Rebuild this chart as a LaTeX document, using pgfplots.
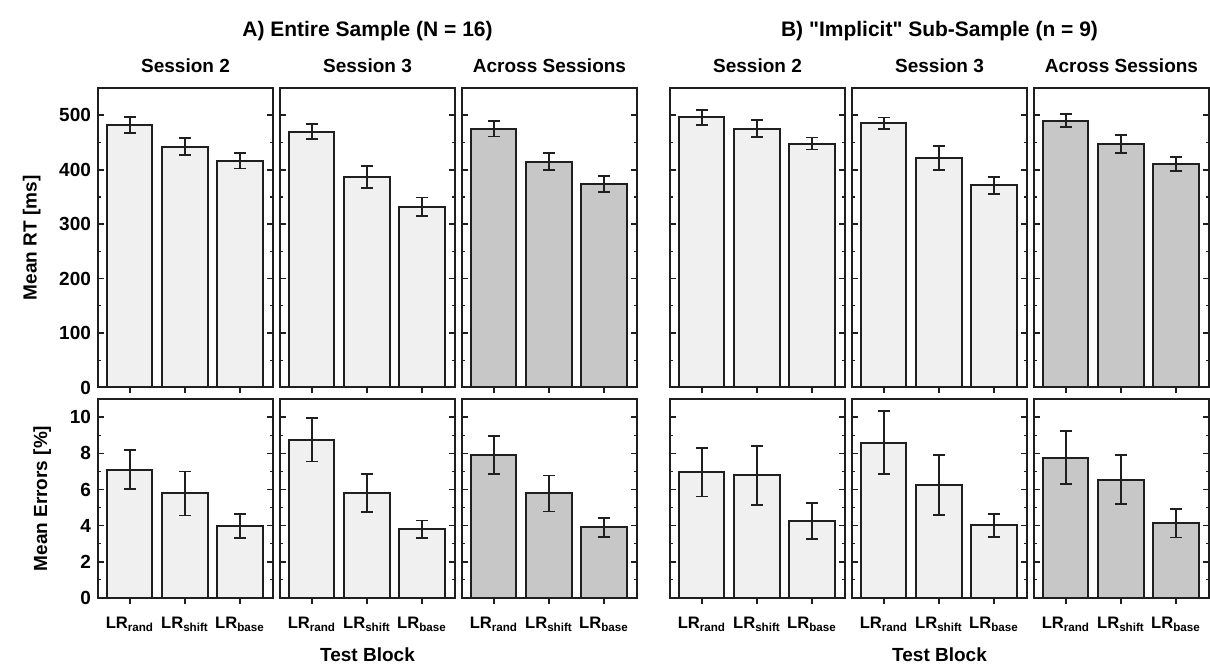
\documentclass[border=0pt]{standalone}
\usepackage{pgfplots}
\pgfplotsset{compat=1.18}
\usepackage{pgfplotstable}
\usepackage{fontspec}
\setmainfont{Liberation Sans}

\definecolor{barlight}{gray}{0.94}
\definecolor{bardark}{gray}{0.78}
\definecolor{ink}{gray}{0.12}

% test block (1 = LR rand, 2 = LR shift, 3 = LR base), mean and standard error
\pgfplotstableread{
x rtS2 rtS2e rtS3 rtS3e rtAll rtAlle erS2 erS2e erS3 erS3e erAll erAlle
1 482 15   470 14 475 14 7.10 1.07 8.75 1.20 7.93 1.05
2 442 15.5 387 20 415 16 5.78 1.22 5.82 1.06 5.78 1.00
3 416 14   332 17 374 15 3.97 0.68 3.80 0.48 3.90 0.53
}\fullsample
\pgfplotstableread{
x rtS2 rtS2e rtS3 rtS3e rtAll rtAlle erS2 erS2e erS3 erS3e erAll erAlle
1 496 14   485 11 490 12 6.96 1.35 8.60 1.75 7.77 1.47
2 475 15.5 421 22 447 16 6.78 1.62 6.26 1.66 6.54 1.35
3 448 11   371 15 410 13 4.25 1.00 4.01 0.64 4.14 0.80
}\implicitsample

\pgfplotsset{
  panel/.style={
    scale only axis, width=87.5pt,
    anchor=north west,
    xmin=0.42, xmax=3.6,
    ybar, bar width=0.82,
    axis line style={ink, line width=1pt},
    xtick={1,2,3}, xtick pos=left, xtick align=outside,
    ytick pos=both, ytick align=inside,
    major tick length=3pt, minor tick length=1.5pt,
    tick style={ink, line width=0.9pt},
    minor tick style={ink, line width=0.6pt},
    minor y tick num=1,
    font=\fontsize{9.5}{11}\selectfont\bfseries,
    /pgf/number format/assume math mode=true,
    title style={font=\fontsize{9.5}{11}\selectfont\bfseries, yshift=-2pt},
    xticklabel style={font=\fontsize{8.3}{10}\selectfont\bfseries, yshift=-3pt},
    every axis y label/.style={at={(ticklabel cs:0.5)}, rotate=90, anchor=south, yshift=2.5pt},
    every axis x label/.style={at={(ticklabel cs:0.5)}, anchor=north, yshift=-1.5pt},
  },
  rt/.style={panel, height=149.75pt, ymin=0, ymax=550,
    ytick={0,100,...,500}, xticklabels={}},
  er/.style={panel, height=99.2pt, ymin=0, ymax=11,
    ytick={0,2,...,10},
    xticklabels={LR\textsubscript{rand}, LR\textsubscript{shift}, LR\textsubscript{base}}},
  noy/.style={yticklabels={}},
}

% one bar series with standard-error bars
\newcommand{\bars}[4]{%
  \addplot[fill=#4, draw=ink, line width=1pt,
    error bars/.cd, y dir=both, y explicit,
    error bar style={ink, line width=0.9pt},
    error mark options={rotate=90, mark size=3pt, ink, line width=0.9pt}]
    table[x=x, y=#2, y error=#3] {#1};}

\begin{document}
\begin{tikzpicture}
\useasboundingbox (0,0) rectangle (605pt,332.5pt);

% group headings
\node[font=\fontsize{10.5}{12}\selectfont\bfseries] at (183.75pt,317pt) {A) Entire Sample (N = 16)};
\node[font=\fontsize{10.5}{12}\selectfont\bfseries] at (469.75pt,317pt) {B) \textquotedbl Implicit\textquotedbl\ Sub-Sample (n = 9)};

% ---- A: reaction times ----
\begin{axis}[rt, at={(49pt,288.5pt)}, title={Session 2}, ylabel={Mean RT [ms]}]
  \bars{\fullsample}{rtS2}{rtS2e}{barlight}
\end{axis}
\begin{axis}[rt, noy, at={(140pt,288.5pt)}, title={Session 3}]
  \bars{\fullsample}{rtS3}{rtS3e}{barlight}
\end{axis}
\begin{axis}[rt, noy, at={(231pt,288.5pt)}, title={Across Sessions}]
  \bars{\fullsample}{rtAll}{rtAlle}{bardark}
\end{axis}

% ---- A: errors ----
\begin{axis}[er, at={(49pt,132.85pt)}, ylabel={Mean Errors [\%]}]
  \bars{\fullsample}{erS2}{erS2e}{barlight}
\end{axis}
\begin{axis}[er, noy, at={(140pt,132.85pt)}, xlabel={Test Block}]
  \bars{\fullsample}{erS3}{erS3e}{barlight}
\end{axis}
\begin{axis}[er, noy, at={(231pt,132.85pt)}]
  \bars{\fullsample}{erAll}{erAlle}{bardark}
\end{axis}

% ---- B: reaction times ----
\begin{axis}[rt, noy, at={(335pt,288.5pt)}, title={Session 2}]
  \bars{\implicitsample}{rtS2}{rtS2e}{barlight}
\end{axis}
\begin{axis}[rt, noy, at={(426pt,288.5pt)}, title={Session 3}]
  \bars{\implicitsample}{rtS3}{rtS3e}{barlight}
\end{axis}
\begin{axis}[rt, noy, at={(517pt,288.5pt)}, title={Across Sessions}]
  \bars{\implicitsample}{rtAll}{rtAlle}{bardark}
\end{axis}

% ---- B: errors ----
\begin{axis}[er, noy, at={(335pt,132.85pt)}]
  \bars{\implicitsample}{erS2}{erS2e}{barlight}
\end{axis}
\begin{axis}[er, noy, at={(426pt,132.85pt)}, xlabel={Test Block}]
  \bars{\implicitsample}{erS3}{erS3e}{barlight}
\end{axis}
\begin{axis}[er, noy, at={(517pt,132.85pt)}]
  \bars{\implicitsample}{erAll}{erAlle}{bardark}
\end{axis}
\end{tikzpicture}
\end{document}
